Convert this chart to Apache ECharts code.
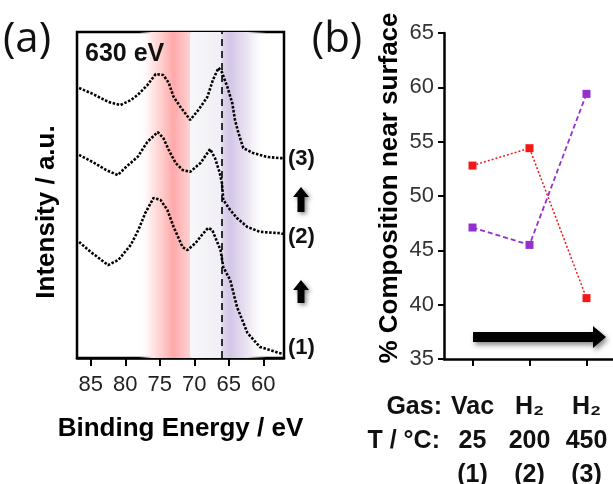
<!DOCTYPE html>
<html>
<head>
<meta charset="utf-8">
<script src="https://cdn.jsdelivr.net/npm/echarts@6/dist/echarts.min.js"></script>
<style>
  html, body { margin: 0; padding: 0; background: #fff; }
  #chart { width: 613px; height: 484px; }
</style>
</head>
<body>
<div id="chart"></div>
<script>
// (a) spectra: [binding energy eV, intensity a.u.]
var trace3 = [[86.7,82.8],[85.0,81.3],[82.4,78.5],[80.7,77.6],[79.2,79.1],[78.2,80.7],[76.8,83.7],[75.6,87.1],[74.5,86.8],[73.7,84.4],[73.0,80.1],[72.0,77.0],[70.6,73.0],[69.4,76.1],[68.1,80.1],[67.3,85.3],[66.5,89.0],[66.0,87.7],[65.2,83.1],[64.5,78.2],[64.1,73.0],[63.6,69.0],[62.9,64.4],[61.5,62.9],[59.5,61.7],[57.6,61.3],[57.0,61.3]];
var trace2 = [[86.7,62.3],[84.7,60.1],[82.8,57.7],[81.1,56.1],[79.9,58.6],[78.2,61.7],[76.8,66.3],[75.3,69.3],[74.5,67.5],[73.7,63.8],[72.7,59.8],[71.7,57.7],[70.6,57.1],[69.1,59.8],[68.1,62.9],[67.7,64.1],[67.0,61.3],[66.3,56.7],[66.0,53.7],[65.8,48.5],[64.8,45.4],[63.8,42.9],[62.3,40.2],[60.5,38.7],[57.6,38.3],[57.0,38.0]];
var trace1 = [[86.7,35.6],[85.0,32.5],[82.5,28.5],[81.0,30.1],[79.2,34.7],[78.1,39.3],[77.1,44.5],[75.9,49.1],[74.9,48.5],[73.9,45.4],[73.0,40.2],[71.7,34.0],[71.0,33.1],[69.8,35.3],[68.8,38.0],[68.0,39.9],[67.4,39.3],[66.2,33.1],[65.8,27.9],[64.8,23.9],[63.8,15.6],[62.3,7.7],[60.5,3.4],[57.6,1.5],[57.0,1.2]];
var energyTicks = [85, 80, 75, 70, 65, 60];

// (b) composition near surface
var gasLabels = ['Vac', 'H₂', 'H₂'];
var tempLabels = ['25', '200', '450'];
var stepLabels = ['(1)', '(2)', '(3)'];
var redValues = [52.8, 54.4, 40.6];
var purpleValues = [47.1, 45.5, 59.4];

var FONT = 'Liberation Sans';
var chart = echarts.init(document.getElementById('chart'));

var categories = gasLabels.map(function (g, i) {
    return g + '\n' + tempLabels[i] + '\n' + stepLabels[i];
});

function spectrum(data) {
    return {
        type: 'line',
        xAxisIndex: 0,
        yAxisIndex: 0,
        data: data,
        symbol: 'none',
        lineStyle: { color: '#000', width: 2.6, type: [2.5, 1.6] },
        z: 3
    };
}

function boldText(text, x, y, size, align) {
    return {
        type: 'text', x: x, y: y, z: 100,
        style: { text: text, fontSize: size, fontWeight: 'bold', fontFamily: FONT, fill: '#111', align: align || 'left', verticalAlign: 'middle' }
    };
}

function upArrow(tip, bottom) {
    var cx = 301;
    return {
        type: 'polygon', z: 100,
        shape: {
            points: [[cx, tip], [cx + 8, tip + 10], [cx + 3.5, tip + 10], [cx + 3.5, bottom],
                     [cx - 3.5, bottom], [cx - 3.5, tip + 10], [cx - 8, tip + 10]]
        },
        style: { fill: '#000', shadowBlur: 4, shadowColor: 'rgba(0,0,0,0.45)', shadowOffsetX: 2, shadowOffsetY: 2 }
    };
}

var s1 = spectrum(trace1);
s1.markArea = {
    silent: true,
    data: [
        [{
            xAxis: 78,
            itemStyle: {
                color: {
                    type: 'linear', x: 0, y: 0, x2: 1, y2: 0,
                    colorStops: [
                        { offset: 0, color: 'rgba(255,255,255,0)' },
                        { offset: 0.25, color: '#ffe6e6' },
                        { offset: 0.45, color: '#ffcccc' },
                        { offset: 0.67, color: '#ffa9a9' },
                        { offset: 1, color: '#ffd2d2' }
                    ]
                }
            }
        }, { xAxis: 70.6 }],
        [{
            xAxis: 70.6,
            itemStyle: {
                color: {
                    type: 'linear', x: 0, y: 0, x2: 1, y2: 0,
                    colorStops: [
                        { offset: 0, color: '#f7f7f9' },
                        { offset: 0.4, color: '#f1eff6' },
                        { offset: 0.42, color: '#e0d7ec' },
                        { offset: 0.52, color: '#d4c6e6' },
                        { offset: 0.75, color: '#ebe5f3' },
                        { offset: 1, color: 'rgba(255,255,255,0)' }
                    ]
                }
            }
        }, { xAxis: 59.5 }]
    ]
};
s1.markLine = {
    silent: true,
    symbol: 'none',
    label: { show: false },
    lineStyle: { color: '#000', width: 1.6, type: [7, 5] },
    data: [{ xAxis: 66.0 }]
};

var option = {
    animation: false,
    textStyle: { fontFamily: FONT },
    grid: [
        { left: 77, top: 32, width: 207, height: 326, outerBoundsMode: 'none', containLabel: false, show: true, borderColor: '#000', borderWidth: 2.5, backgroundColor: 'transparent' },
        { left: 444, top: 33, width: 171, height: 326, outerBoundsMode: 'none', containLabel: false }
    ],
    xAxis: [
        {
            gridIndex: 0, type: 'value', inverse: true, min: 57, max: 87,
            axisLine: { show: true, lineStyle: { color: '#000', width: 2.5 } },
            axisTick: { show: true, customValues: energyTicks, length: 8, lineStyle: { color: '#000', width: 2 } },
            axisLabel: { customValues: energyTicks, fontSize: 22, fontFamily: FONT, color: '#222', margin: 16 },
            splitLine: { show: false },
            name: 'Binding Energy / eV', nameLocation: 'middle', nameGap: 58,
            nameTextStyle: { fontSize: 26, fontWeight: 'bold', fontFamily: FONT, color: '#000' }
        },
        {
            gridIndex: 1, type: 'category', data: categories, boundaryGap: true,
            axisLine: { show: true, lineStyle: { color: '#000', width: 2.5 } },
            axisTick: { show: true, alignWithLabel: true, length: 7, lineStyle: { color: '#000', width: 2 } },
            axisLabel: { fontSize: 25, fontWeight: 'bold', fontFamily: FONT, color: '#111', lineHeight: 34, margin: 31 }
        }
    ],
    yAxis: [
        {
            gridIndex: 0, type: 'value', min: 0, max: 100,
            axisLine: { show: false }, axisTick: { show: false }, axisLabel: { show: false }, splitLine: { show: false }
        },
        {
            gridIndex: 1, type: 'value', min: 35, max: 65, interval: 5,
            axisLine: { show: true, lineStyle: { color: '#000', width: 2.5 } },
            axisTick: { show: true, length: 6, lineStyle: { color: '#000', width: 2 } },
            axisLabel: { fontSize: 22, fontFamily: FONT, color: '#333', margin: 10 },
            splitLine: { show: false }
        }
    ],
    series: [
        s1,
        spectrum(trace2),
        spectrum(trace3),
        {
            type: 'line', xAxisIndex: 1, yAxisIndex: 1, data: redValues,
            symbol: 'rect', symbolSize: 8,
            itemStyle: { color: '#f21818' },
            lineStyle: { color: '#f21818', width: 1.5, type: [2, 2] }
        },
        {
            type: 'line', xAxisIndex: 1, yAxisIndex: 1, data: purpleValues,
            symbol: 'rect', symbolSize: 8,
            itemStyle: { color: '#9430d0' },
            lineStyle: { color: '#9430d0', width: 1.8, type: [5, 3] }
        }
    ],
    graphic: [
        { type: 'text', x: 27, y: 40, z: 100, style: { text: '(a)', fontSize: 42, fontFamily: 'Open Sans', fill: '#111', align: 'center', verticalAlign: 'middle' } },
        { type: 'text', x: 337, y: 40, z: 100, style: { text: '(b)', fontSize: 42, fontFamily: 'Open Sans', fill: '#111', align: 'center', verticalAlign: 'middle' } },
        boldText('630 eV', 85, 54, 25),
        boldText('(3)', 288, 159, 22),
        boldText('(2)', 288, 237, 22),
        boldText('(1)', 288, 348, 22),
        {
            type: 'text', x: 47, y: 212, rotation: Math.PI / 2, z: 100,
            style: { text: 'Intensity / a.u.', fontSize: 26, fontWeight: 'bold', fontFamily: FONT, fill: '#000', align: 'center', verticalAlign: 'middle' }
        },
        {
            type: 'text', x: 390, y: 188, rotation: Math.PI / 2, z: 100,
            style: { text: '% Composition near surface', fontSize: 26, fontWeight: 'bold', fontFamily: FONT, fill: '#000', align: 'center', verticalAlign: 'middle' }
        },
        boldText('Gas:', 442, 407, 25, 'right'),
        boldText('T / °C:', 440, 441, 25, 'right'),
        upArrow(187, 212),
        upArrow(280, 303),
        {
            type: 'polygon', z: 100,
            shape: { points: [[473, 332], [593, 332], [593, 326], [606, 337], [593, 348], [593, 342], [473, 342]] },
            style: { fill: '#000', shadowBlur: 5, shadowColor: 'rgba(0,0,0,0.45)', shadowOffsetX: 2, shadowOffsetY: 3 }
        }
    ]
};

chart.setOption(option);
</script>
</body>
</html>
